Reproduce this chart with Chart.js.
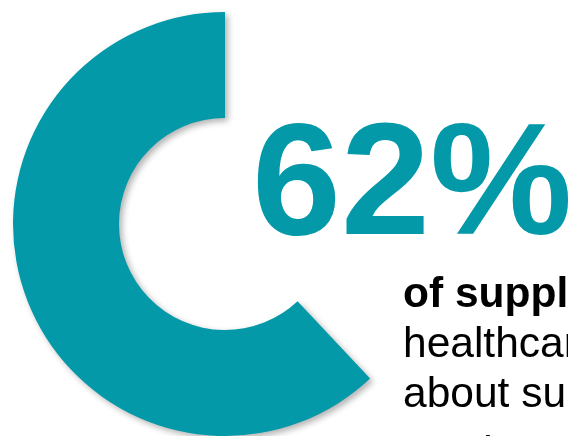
<!DOCTYPE html>
<html>
<head>
<meta charset="utf-8">
<script src="https://cdn.jsdelivr.net/npm/chart.js@4"></script>
<style>
  html, body { margin: 0; padding: 0; background: #fff; overflow: hidden; }
  #wrap { position: relative; width: 568px; height: 436px; overflow: hidden; }
  #chartBox { position: absolute; left: 0; top: 0; width: 568px; height: 436px; }
  .big {
    position: absolute; left: 252px; top: 99px;
    font: bold 160px "Liberation Sans", Arial, sans-serif; line-height: 1;
    color: #0399a8; white-space: nowrap;
  }
  .caption {
    position: absolute; left: 403px; top: 268px;
    font: 42.5px "Liberation Sans", Arial, sans-serif; line-height: 50px;
    color: #000; white-space: nowrap;
  }
  .caption div { height: 50px; }
  .caption .bold { font-weight: bold; }
  .caption .last { margin-top: 9px; }
</style>
</head>
<body>
<div id="wrap">
  <div id="chartBox"><canvas id="donut"></canvas></div>
  <div class="big" id="bigValue"></div>
  <div class="caption">
    <div class="bold">of suppliers</div>
    <div>healthcare</div>
    <div>about supply</div>
    <div class="last">services</div>
  </div>
</div>
<script>
// data
const labels = ['Other', 'Suppliers'];
const values = [38, 62];
const colors = ['rgba(0,0,0,0)', '#0399a8'];
const headline = '62%';

document.getElementById('bigValue').innerText = headline;

// soft drop shadow under the ring
const shadowPlugin = {
  id: 'ringShadow',
  beforeDatasetDraw(chart) {
    const ctx = chart.ctx;
    ctx.save();
    ctx.shadowColor = 'rgba(0,0,0,0.3)';
    ctx.shadowBlur = 6;
    ctx.shadowOffsetX = 3;
    ctx.shadowOffsetY = 3;
  },
  afterDatasetDraw(chart) {
    chart.ctx.restore();
  }
};

const ctx = document.getElementById('donut').getContext('2d');
const donutChart = new Chart(ctx, {
  type: 'doughnut',
  data: {
    labels: labels,
    datasets: [{
      data: values,
      backgroundColor: colors,
      borderWidth: 0,
      hoverOffset: 0,
      offset: 0
    }]
  },
  options: {
    responsive: true,
    maintainAspectRatio: false,
    animation: false,
    cutout: '50%',
    layout: { padding: { left: 13, top: 12, right: 131, bottom: 0 } },
    plugins: {
      legend: { display: false },
      tooltip: { enabled: false }
    },
    events: []
  },
  plugins: [shadowPlugin]
});
</script>
</body>
</html>
